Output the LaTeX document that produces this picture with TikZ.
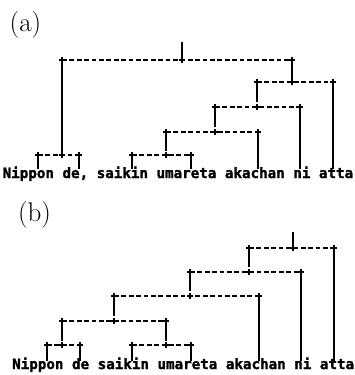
\documentclass[tikz,border=0pt]{standalone}
\usepackage{fontspec}
\newfontfamily\dotmono[FakeBold=1.6]{DejaVu Sans Mono}
% small "+" mark printed at every end and junction of a bar
\newcommand\junct[1]{\draw[tick] ([xshift=-2.8pt]#1) -- ([xshift=2.8pt]#1) ([yshift=-3.4pt]#1) -- ([yshift=3.4pt]#1);}
\begin{document}
\begin{tikzpicture}[x=1pt,y=-1pt,
  bar/.style={line width=1.6pt, dash pattern=on 4.8pt off 2.6pt},
  stem/.style={line width=2pt},
  tick/.style={line width=1.6pt},
  words/.style={font=\dotmono\bfseries\fontsize{14.2}{14}\selectfont, anchor=base west, inner sep=0pt},
  panel/.style={font=\fontsize{27}{27}\selectfont, inner sep=0pt}]
\useasboundingbox (0,0) rectangle (355,375);

% ---------------- (a) ----------------
\node[panel] (la) at (25.5,25) {(a)};
\node[words] (sa) at (2.5,178) {Nippon de, saikin umareta akachan ni atta};

\coordinate (a0) at (182,42);
\coordinate (a1l) at (62,60);  \coordinate (a1j) at (182,60); \coordinate (a1r) at (292,60);
\coordinate (a2l) at (257,82); \coordinate (a2j) at (292,82); \coordinate (a2r) at (333,82);
\coordinate (a3l) at (215,107);\coordinate (a3j) at (257,107);\coordinate (a3r) at (300,107);
\coordinate (a4l) at (166,132);\coordinate (a4j) at (215,132);\coordinate (a4r) at (258,132);
\coordinate (a5l) at (38,155); \coordinate (a5j) at (62,155); \coordinate (a5r) at (79,155);
\coordinate (a6l) at (132,155);\coordinate (a6j) at (166,155);\coordinate (a6r) at (191,155);

\foreach \k in {1,...,6} {\draw[bar] (a\k l) -- (a\k r);}
\foreach \p in {a1l,a1j,a1r,a2l,a2j,a2r,a3l,a3j,a3r,a4l,a4j,a4r,a5l,a5j,a5r,a6l,a6j,a6r} {\junct{\p}}

\draw[stem] (a0) -- (a1j);
\draw[stem] (a1l) -- ([yshift=3pt]a5j);
\draw[stem] (a1r) -- ([yshift=3pt]a2j);
\draw[stem] (a2l) -- ([yshift=5pt]a3j);
\draw[stem] (a3l) -- ([yshift=5pt]a4j);
\draw[stem] (a4l) -- ([yshift=4pt]a6j);
\foreach \p in {a2r,a3r,a4r} {\draw[stem] (\p) -- (\p |- 0,169);}
\foreach \p in {a5l,a5r,a6l,a6r} {\draw[stem] ([yshift=-3pt]\p) -- (\p |- 0,169);}

% ---------------- (b) ----------------
\node[panel] (lb) at (34.5,215) {(b)};
\node[words] (sb) at (12,369) {Nippon de saikin umareta akachan ni atta};

\coordinate (b0) at (293,232);
\coordinate (b1l) at (249,248);\coordinate (b1j) at (293,248);\coordinate (b1r) at (334,248);
\coordinate (b2l) at (190,272);\coordinate (b2j) at (249,272);\coordinate (b2r) at (301,272);
\coordinate (b3l) at (114,296);\coordinate (b3j) at (190,296);\coordinate (b3r) at (259,296);
\coordinate (b4l) at (62,321); \coordinate (b4j) at (114,321);\coordinate (b4r) at (166,321);
\coordinate (b5l) at (47,345); \coordinate (b5j) at (62,345); \coordinate (b5r) at (80,345);
\coordinate (b6l) at (132,345);\coordinate (b6j) at (166,345);\coordinate (b6r) at (191,345);

\foreach \k in {1,...,6} {\draw[bar] (b\k l) -- (b\k r);}
\foreach \p in {b1l,b1j,b1r,b2l,b2j,b2r,b3l,b3j,b3r,b4l,b4j,b4r,b5l,b5j,b5r,b6l,b6j,b6r} {\junct{\p}}

\draw[stem] (b0) -- (b1j);
\draw[stem] (b1l) -- ([yshift=5pt]b2j);
\draw[stem] (b2l) -- ([yshift=5pt]b3j);
\draw[stem] (b3l) -- ([yshift=5pt]b4j);
\draw[stem] (b4l) -- ([yshift=4pt]b5j);
\draw[stem] (b4r) -- ([yshift=4pt]b6j);
\foreach \p in {b1r,b2r,b3r} {\draw[stem] (\p) -- (\p |- 0,361);}
\foreach \p in {b5l,b5r,b6l,b6r} {\draw[stem] ([yshift=-3pt]\p) -- (\p |- 0,361);}
\end{tikzpicture}
\end{document}
